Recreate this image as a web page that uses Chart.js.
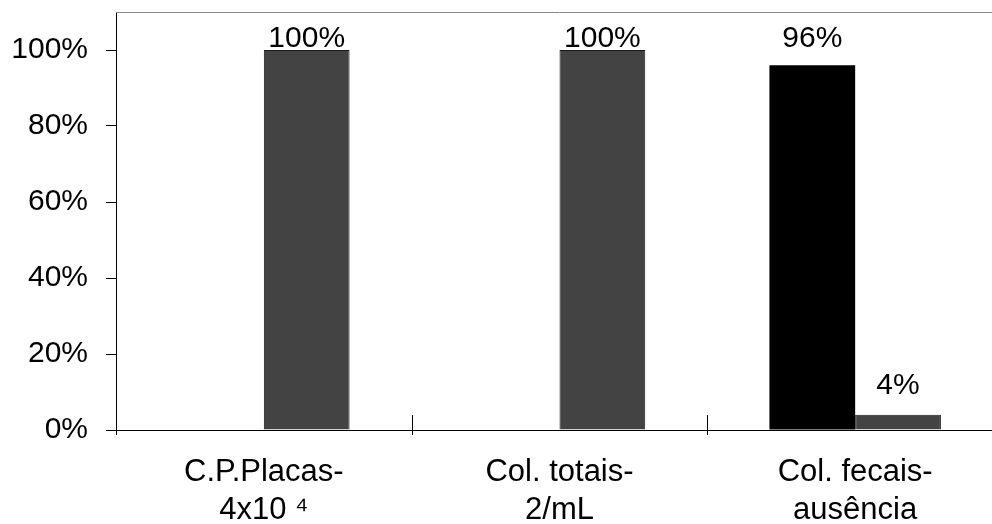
<!DOCTYPE html>
<html>
<head>
<meta charset="utf-8">
<script src="https://cdn.jsdelivr.net/npm/chart.js@4/dist/chart.umd.min.js"></script>
<style>
  html, body { margin: 0; padding: 0; background: #fff; overflow: hidden; }
  #wrap { width: 1003px; height: 524px; }
</style>
</head>
<body>
<div id="wrap"><canvas id="myChart" width="1003" height="524"></canvas></div>
<script>
// categories and values
let categories = [['C.P.Placas-', '4x10 \u2074'], ['Col. totais-', '2/mL'], ['Col. fecais-', 'ausência']];
let seriesBlack = [0, 0, 96];
let seriesGray = [100, 100, 4];
let yTicks = [0, 20, 40, 60, 80, 100];

const FONT = 'Liberation Sans, Arial, sans-serif';

// value labels over bars
const barLabels = {
  id: 'barLabels',
  afterDatasetsDraw(chart) {
    let ctx = chart.ctx;
    ctx.save();
    ctx.font = '30px ' + FONT;
    ctx.fillStyle = '#000';
    ctx.textAlign = 'center';
    ctx.textBaseline = 'alphabetic';
    chart.data.datasets.forEach((ds, di) => {
      let meta = chart.getDatasetMeta(di);
      meta.data.forEach((bar, i) => {
        let v = ds.data[i];
        if (!v) return;
        let y = Math.max(bar.y - 21, 47);
        ctx.fillText(v + '%', bar.x, y);
      });
    });
    ctx.restore();
  }
};

// top frame line + crossing tick marks between categories
const frame = {
  id: 'frame',
  afterDraw(chart) {
    let ctx = chart.ctx;
    let area = chart.chartArea;
    let xs = chart.scales.x;
    ctx.save();
    ctx.strokeStyle = '#888';
    ctx.lineWidth = 1;
    ctx.beginPath();
    ctx.moveTo(area.left, area.top + 0.5);
    ctx.lineTo(area.right, area.top + 0.5);
    ctx.stroke();
    ctx.strokeStyle = '#000';
    for (let i = 0; i <= categories.length; i++) {
      let x = Math.round(xs.getPixelForValue(i - 0.5)) + 0.5;
      ctx.beginPath();
      ctx.moveTo(x, area.bottom - 15);
      ctx.lineTo(x, area.bottom + 5);
      ctx.stroke();
    }
    ctx.restore();
  }
};

new Chart(document.getElementById('myChart'), {
  type: 'bar',
  data: {
    labels: categories,
    datasets: [
      {
        label: 'A',
        data: seriesBlack,
        backgroundColor: '#000000',
        borderColor: '#000000',
        borderWidth: 0
      },
      {
        label: 'B',
        data: seriesGray,
        backgroundColor: '#434343',
        borderColor: '#1a1a1a',
        borderWidth: 1
      }
    ]
  },
  options: {
    responsive: false,
    animation: false,
    devicePixelRatio: 1,
    layout: { padding: { top: 12, right: 0, left: 0, bottom: 0 } },
    categoryPercentage: 0.58,
    barPercentage: 1,
    plugins: {
      legend: { display: false },
      tooltip: { enabled: false },
      title: { display: false }
    },
    scales: {
      x: {
        grid: { display: false },
        border: { display: true, color: '#000', width: 1 },
        ticks: {
          color: '#000',
          font: { family: FONT, size: 31, lineHeight: 1.22 },
          padding: 16,
          maxRotation: 0,
          autoSkip: false
        },
        afterFit(scale) {
          scale.height = 94;
          scale.paddingLeft = 0;
          scale.paddingRight = 0;
        }
      },
      y: {
        min: 0,
        max: 110,
        afterBuildTicks(scale) {
          scale.ticks = yTicks.map(v => ({ value: v }));
        },
        grid: {
          drawOnChartArea: false,
          drawTicks: true,
          tickLength: 10,
          color: '#000'
        },
        border: { display: true, color: '#000', width: 1 },
        ticks: {
          color: '#000',
          font: { family: FONT, size: 30 },
          padding: 18,
          callback: v => v + '%'
        },
        afterFit(scale) {
          scale.width = 116;
          scale.paddingTop = 0;
          scale.paddingBottom = 0;
        }
      }
    }
  },
  plugins: [barLabels, frame]
});
</script>
</body>
</html>
